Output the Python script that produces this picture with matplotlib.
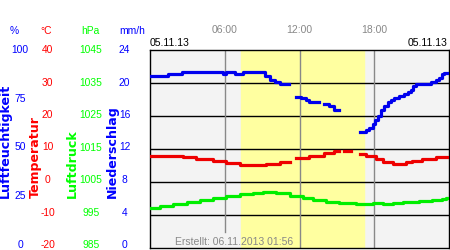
import numpy as np
import matplotlib
matplotlib.use('Agg')
import matplotlib.pyplot as plt
from matplotlib.transforms import blended_transform_factory

nan = np.nan

# time of day in hours
hum_t = [0.0, 1.47, 2.53, 5.87, 6.08, 6.8, 7.47, 9.2, 9.6, 10.0,
         10.4, 11.15, 11.73, 12.13, 12.53, 12.8, 13.6, 14.0, 14.4, 14.8,
         15.2, 16.85, 17.33, 17.6, 17.87, 18.08, 18.27, 18.53, 18.8, 19.07,
         19.33, 19.6, 20.0, 20.4, 20.67, 20.93, 21.12, 21.33, 22.53, 22.93,
         23.2, 23.4, 23.6, 24.0]
hum_v = [86.9, 87.9, 88.9, 87.9, 88.9, 87.9, 88.9, 86.9, 84.8, 83.8,
         82.8, nan, 76.5, 75.6, 74.6, 73.6, nan, 72.6, 71.6, 69.5,
         nan, 58.4, 59.4, 60.4, 62.5, 64.5, 66.5, 69.5, 71.6, 73.6,
         74.6, 75.6, 76.6, 77.6, 78.6, 79.6, 81.7, 82.7, 83.7, 84.7,
         85.7, 87.7, 88.2, 88.2]

temp_t = [0.0, 2.65, 3.7, 5.07, 6.13, 7.2, 9.33, 10.4, 11.2, 11.73,
          12.8, 14.0, 14.8, 15.2, 15.6, 16.13, 16.85, 17.33, 18.13, 18.67,
          19.47, 20.53, 21.07, 21.87, 22.93, 24.0]
temp_v = [7.9, 7.5, 7.0, 6.4, 5.8, 5.1, 5.6, 6.1, nan, 7.3,
          7.9, 8.7, 9.3, nan, 9.3, nan, 8.5, 7.9, 6.9, 6.0,
          5.6, 6.0, 6.5, 7.0, 7.7, 7.7]

press_t = [0.0, 0.8, 1.87, 2.93, 4.0, 5.07, 6.13, 7.2, 8.27, 9.07,
           10.13, 11.2, 12.27, 13.07, 14.13, 15.2, 16.53, 17.87, 18.67, 19.47,
           20.27, 21.6, 22.67, 23.47, 23.75, 24.0]
press_v = [997.1, 997.6, 998.2, 998.9, 999.6, 1000.2, 1000.8, 1001.4, 1001.7, 1002.0,
           1001.6, 1000.8, 1000.2, 999.5, 999.0, 998.7, 998.3, 998.5, 998.2, 998.5,
           998.9, 999.2, 999.5, 999.8, 1000.1, 1000.1]

day_start, day_end = 7.28, 17.2
hour_ticks = [6, 12, 18]
hour_labels = ['06:00', '12:00', '18:00']

hum_ticks = [0, 25, 50, 75, 100]
temp_ticks = [-20, -10, 0, 10, 20, 30, 40]
press_ticks = [985, 995, 1005, 1015, 1025, 1035, 1045]
rain_ticks = [0, 4, 8, 12, 16, 20, 24]

date_label = '05.11.13'
created = 'Erstellt: 06.11.2013 01:56'

BLUE = '#0000ff'
RED = '#ff0000'
GREEN = '#00ff00'
GRAY = '#888888'
NUM = 'Liberation Sans'

fig = plt.figure(figsize=(4.5, 2.5), dpi=100)
ax = fig.add_axes([150 / 450, 2 / 250, 299 / 450, 198 / 250])
ax.set_facecolor('#f3f3f3')
ax.set_xlim(0, 24)
ax.set_ylim(-20, 40)
ax.axvspan(day_start, day_end, color='#ffffa0', zorder=0)
for t in temp_ticks[1:-1]:
    ax.axhline(t, color='black', lw=1, zorder=1)
for h in hour_ticks:
    ymin = 0.08 if h == 6 else 0
    ax.axvline(h, ymin=ymin, color=GRAY, lw=1, zorder=1)
ax.set_xticks([])
ax.set_yticks([])
for s in ax.spines.values():
    s.set_color('black')
    s.set_linewidth(1)
ax.plot(temp_t, temp_v, color='#ee0000', lw=2.3, drawstyle='steps-post', zorder=3)

ax_h = ax.twinx()
ax_h.set_ylim(0, 100)
ax_h.plot(hum_t, hum_v, color='#0000ee', lw=2.3, drawstyle='steps-post', zorder=3)
ax_p = ax.twinx()
ax_p.set_ylim(985, 1045)
ax_p.plot(press_t, press_v, color='#00ee00', lw=2.3, drawstyle='steps-post', zorder=3)
for a in (ax_h, ax_p):
    a.set_xlim(0, 24)
    a.axis('off')

ax.text(2.0, -18.1, created, color=GRAY, fontsize=7.5, family=NUM, ha='left', va='center')

# top labels
top = blended_transform_factory(ax.transData, fig.transFigure)
for h, lbl in zip(hour_ticks, hour_labels):
    ax.text(h, 1 - 30 / 250, lbl, transform=top, color=GRAY, fontsize=7.5,
            family=NUM, ha='center', va='center')
fig.text(150 / 450, 1 - 43 / 250, date_label, fontsize=7.5, family=NUM, ha='left', va='center')
fig.text(447 / 450, 1 - 43 / 250, date_label, fontsize=7.5, family=NUM, ha='right', va='center')

# left scales
lab = fig.add_axes([0, 5 / 250, 1, 195 / 250])
lab.axis('off')
lab.set_xlim(0, 450)
lab.set_ylim(-20, 40)
lab_h = lab.twinx()
lab_h.axis('off')
lab_h.set_ylim(0, 100)
lab_p = lab.twinx()
lab_p.axis('off')
lab_p.set_ylim(985, 1045)
lab_r = lab.twinx()
lab_r.axis('off')
lab_r.set_ylim(0, 24)

kw = dict(fontsize=7.4, family=NUM, ha='center', va='center')
for v in hum_ticks:
    lab_h.text(20, v, str(v), color=BLUE, **kw)
for v in temp_ticks:
    lab.text(47.5, v, str(v), color=RED, **kw)
for v in press_ticks:
    lab_p.text(91, v, str(v), color=GREEN, **kw)
for v in rain_ticks:
    lab_r.text(124.5, v, str(v), color=BLUE, **kw)

hy = 1 - 30.7 / 250
fig.text(14 / 450, hy, '%', color=BLUE, **kw)
fig.text(46.5 / 450, hy, '°C', color=RED, **kw)
fig.text(90 / 450, hy, 'hPa', color=GREEN, **kw)
fig.text(132.5 / 450, hy, 'mm/h', color=BLUE, **kw)

ry = 1 - 198.5 / 250
rk = dict(rotation=90, fontsize=9.1, fontweight='bold', ha='center', va='bottom')
fig.text(5.5 / 450, ry, 'Luftfeuchtigkeit', color=BLUE, **rk)
fig.text(35.5 / 450, ry, 'Temperatur', color=RED, **rk)
fig.text(72 / 450, ry, 'Luftdruck', color=GREEN, **rk)
fig.text(112.5 / 450, ry, 'Niederschlag', color=BLUE, **rk)

fig.savefig('out.png', dpi=100)
